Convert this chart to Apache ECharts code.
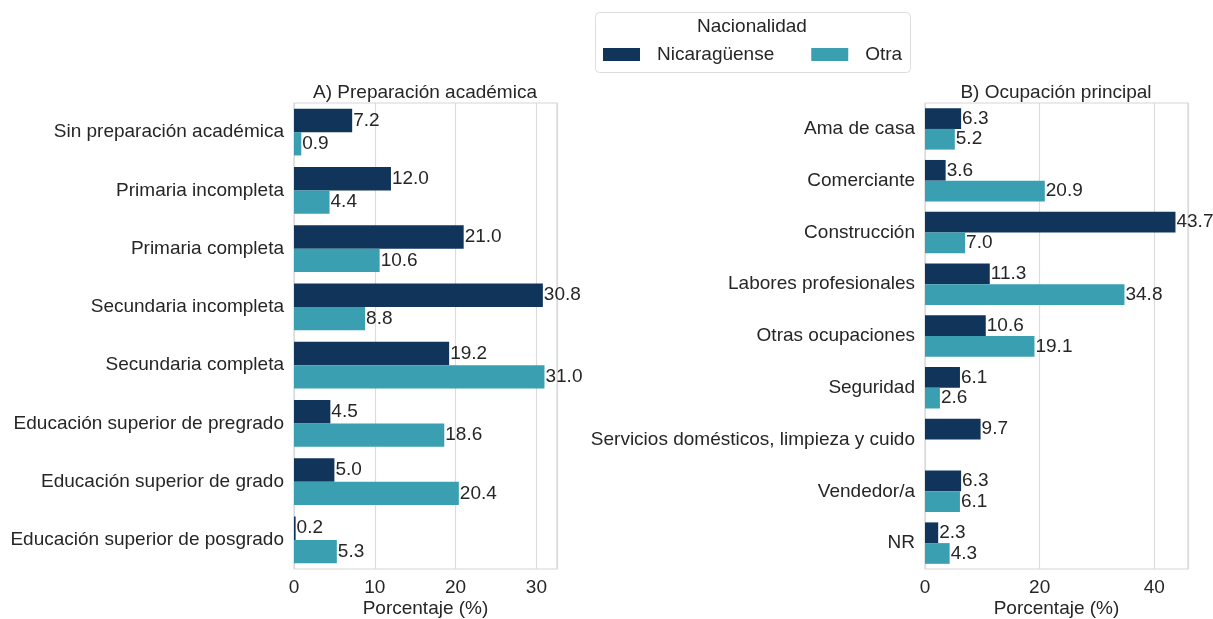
<!DOCTYPE html>
<html lang="es">
<head>
<meta charset="UTF-8">
<title>Nacionalidad - preparación y ocupación</title>
<script src="https://cdn.jsdelivr.net/npm/echarts@6/dist/echarts.min.js"></script>
<style>
  html, body { margin: 0; padding: 0; background: #fff; }
  #chart { width: 1213px; height: 619px; }
</style>
</head>
<body>
<div id="chart"></div>
<script>
// categorias panel A
var educCats = ['Sin preparación académica', 'Primaria incompleta', 'Primaria completa',
  'Secundaria incompleta', 'Secundaria completa', 'Educación superior de pregrado',
  'Educación superior de grado', 'Educación superior de posgrado'];
var educNica = [7.2, 12.0, 21.0, 30.8, 19.2, 4.5, 5.0, 0.2];
var educOtra = [0.9, 4.4, 10.6, 8.8, 31.0, 18.6, 20.4, 5.3];

// categorias panel B
var ocupCats = ['Ama de casa', 'Comerciante', 'Construcción', 'Labores profesionales',
  'Otras ocupaciones', 'Seguridad', 'Servicios domésticos, limpieza y cuido', 'Vendedor/a', 'NR'];
var ocupNica = [6.3, 3.6, 43.7, 11.3, 10.6, 6.1, 9.7, 6.3, 2.3];
var ocupOtra = [5.2, 20.9, 7.0, 34.8, 19.1, 2.6, null, 6.1, 4.3];

var NAVY = '#11345a';
var TEAL = '#3aa0b1';
var TXT = '#262626';
var FONT = 'Liberation Sans, Arial, sans-serif';
var FS = 19;

function valueAxis(idx, max, step) {
  return {
    type: 'value', gridIndex: idx, min: 0, max: max, interval: step,
    name: 'Porcentaje (%)', nameLocation: 'middle', nameGap: 30, nameMoveOverlap: false,
    nameTextStyle: { fontSize: FS, color: TXT, fontFamily: FONT },
    axisLine: { show: false }, axisTick: { show: false },
    axisLabel: { fontSize: FS, color: TXT, fontFamily: FONT, margin: 9, showMaxLabel: false },
    splitLine: { show: true, lineStyle: { color: '#dcdcdc', width: 1.2 } }
  };
}

function catAxis(idx, cats) {
  return {
    type: 'category', gridIndex: idx, data: cats, inverse: true,
    axisLine: { show: false }, axisTick: { show: false },
    axisLabel: { fontSize: FS, color: TXT, fontFamily: FONT, margin: 10 },
    splitLine: { show: false }
  };
}

function barSeries(name, idx, data, color) {
  return {
    name: name, type: 'bar', xAxisIndex: idx, yAxisIndex: idx, data: data,
    barCategoryGap: '20%', barGap: '0%',
    itemStyle: { color: color },
    label: {
      show: true, position: 'right', distance: 1, fontSize: FS, color: TXT, fontFamily: FONT,
      formatter: function (p) { return p.value == null ? '' : Number(p.value).toFixed(1); }
    },
    animation: false
  };
}

var option = {
  backgroundColor: '#fff',
  textStyle: { fontFamily: FONT },
  title: [
    { text: 'A) Preparación académica', left: 425, top: 83, textAlign: 'center', padding: 0,
      textStyle: { fontSize: FS, fontWeight: 'normal', color: TXT, fontFamily: FONT } },
    { text: 'B) Ocupación principal', left: 1056, top: 83, textAlign: 'center', padding: 0,
      textStyle: { fontSize: FS, fontWeight: 'normal', color: TXT, fontFamily: FONT } }
  ],
  legend: {
    left: 603, top: 45, itemWidth: 37, itemHeight: 13, itemGap: 37, padding: 0,
    icon: 'rect',
    data: ['Nicaragüense', 'Otra'],
    textStyle: { fontSize: FS, color: TXT, fontFamily: FONT, padding: [0, 0, 0, 12] }
  },
  graphic: [
    { type: 'rect', left: 595, top: 12, shape: { width: 315, height: 60, r: 4 },
      style: { fill: '#fff', stroke: '#dddddd', lineWidth: 1 }, z: -1 },
    { type: 'text', x: 752, y: 27,
      style: { text: 'Nacionalidad', fill: TXT, font: FS + 'px ' + FONT, align: 'center', verticalAlign: 'middle' } }
  ],
  grid: [
    { left: 294, right: 656, top: 103, bottom: 50, outerBoundsMode: 'none', containLabel: false,
      show: true, borderColor: '#d6d6d6', borderWidth: 1.2 },
    { left: 925, right: 25, top: 103, bottom: 50, outerBoundsMode: 'none', containLabel: false,
      show: true, borderColor: '#d6d6d6', borderWidth: 1.2 }
  ],
  xAxis: [valueAxis(0, 32.55, 10), valueAxis(1, 45.885, 20)],
  yAxis: [catAxis(0, educCats), catAxis(1, ocupCats)],
  series: [
    barSeries('Nicaragüense', 0, educNica, NAVY),
    barSeries('Otra', 0, educOtra, TEAL),
    barSeries('Nicaragüense', 1, ocupNica, NAVY),
    barSeries('Otra', 1, ocupOtra, TEAL)
  ]
};

var chart = echarts.init(document.getElementById('chart'));
chart.setOption(option);
</script>
</body>
</html>
